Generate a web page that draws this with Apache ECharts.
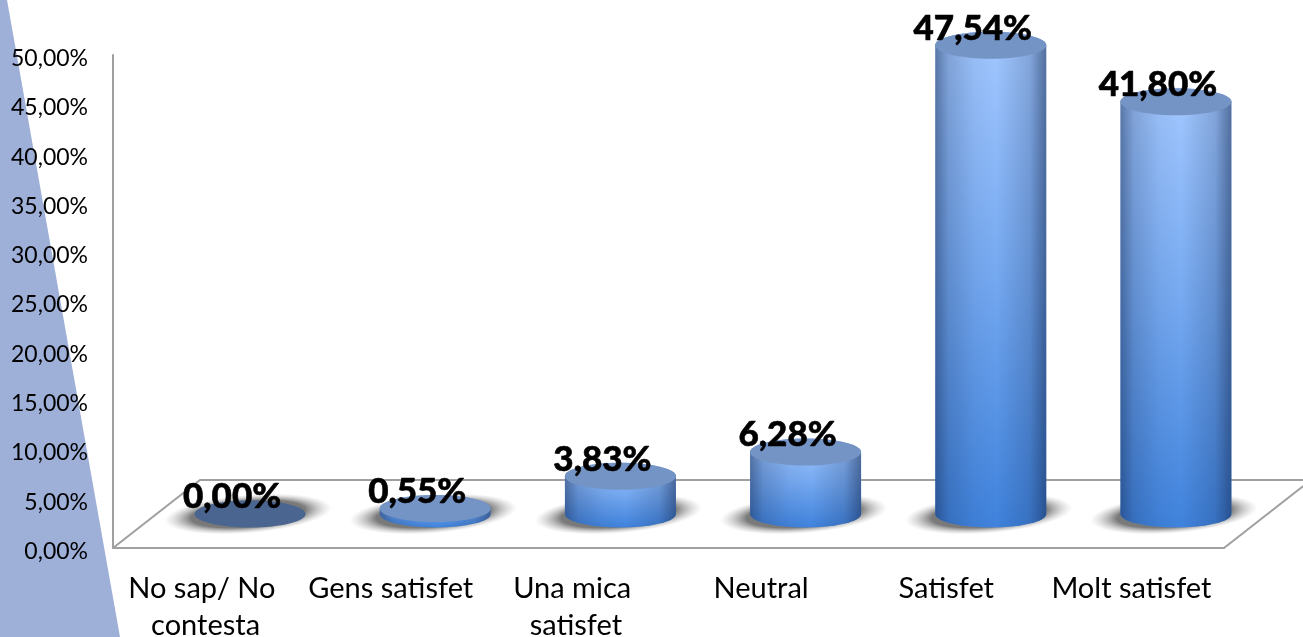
<!DOCTYPE html>
<html>
<head>
<meta charset="utf-8">
<style>
  html, body { margin: 0; padding: 0; background: #fff; }
  #chart { width: 1303px; height: 637px; }
</style>
<script src="https://cdn.jsdelivr.net/npm/echarts@6/dist/echarts.min.js"></script>
</head>
<body>
<div id="chart"></div>
<script>
const categories = ['No sap/ No contesta', 'Gens satisfet', 'Una mica satisfet', 'Neutral', 'Satisfet', 'Molt satisfet']
const values = [0, 0.55, 3.83, 6.28, 47.54, 41.8]

const FONT = 'Lato'
// fake 3D depth of the floor, the bars stand halfway back
const DEPTH_X = 87
const DEPTH_Y = -68
const RX = 55.5
const RY = 13.5

const pct = v => v.toFixed(2).replace('.', ',') + '%'

const chart = echarts.init(document.getElementById('chart'))

function renderFloor(params, api) {
  const a = api.coord([0, 0])
  const b = api.coord([5, 0])
  const band = api.size([1, 0])[0]
  const left = a[0] - band / 2
  const right = b[0] + band / 2
  const y = a[1]
  return {
    type: 'polyline',
    shape: {
      points: [
        [left, y],
        [left + DEPTH_X, y + DEPTH_Y],
        [right + DEPTH_X, y + DEPTH_Y],
        [right, y]
      ]
    },
    style: { stroke: '#a0a0a0', lineWidth: 2, fill: null }
  }
}

function renderCylinder(params, api) {
  const i = api.value(0)
  const v = api.value(1)
  const base = api.coord([i, 0])
  const top = api.coord([i, v])
  const cx = base[0] + DEPTH_X / 2 + 1
  const by = base[1] + DEPTH_Y / 2
  const ty = top[1] + DEPTH_Y / 2
  const l = cx - RX
  const r = cx + RX
  const d = `M${l} ${ty}L${l} ${by}A${RX} ${RY} 0 0 0 ${r} ${by}L${r} ${ty}A${RX} ${RY} 0 0 0 ${l} ${ty}Z`

  const children = [
    {
      type: 'circle',
      x: cx - 2,
      y: by,
      scaleY: 0.23,
      rotation: 0.08,
      shape: { cx: 0, cy: 0, r: 84 },
      style: {
        fill: {
          type: 'radial', x: 0.5, y: 0.5, r: 0.5,
          colorStops: [
            { offset: 0, color: 'rgba(105,105,105,0.95)' },
            { offset: 0.68, color: 'rgba(115,115,115,0.95)' },
            { offset: 1, color: 'rgba(190,190,190,0)' }
          ]
        }
      }
    }
  ]

  if (v > 0) {
    children.push({
      type: 'path',
      shape: { pathData: d },
      style: {
        fill: {
          type: 'linear', x: 0, y: 0, x2: 0, y2: 1,
          colorStops: [
            { offset: 0, color: '#a3c8ff' },
            { offset: 0.5, color: '#74a8f0' },
            { offset: 1, color: '#3f82dc' }
          ]
        }
      }
    })
    children.push({
      type: 'path',
      shape: { pathData: d },
      style: {
        fill: {
          type: 'linear', x: 0, y: 0, x2: 1, y2: 0,
          colorStops: [
            { offset: 0, color: 'rgba(20,40,80,0.5)' },
            { offset: 0.12, color: 'rgba(20,40,80,0.22)' },
            { offset: 0.35, color: 'rgba(20,40,80,0.05)' },
            { offset: 0.55, color: 'rgba(20,40,80,0)' },
            { offset: 0.85, color: 'rgba(20,40,80,0.2)' },
            { offset: 1, color: 'rgba(20,40,80,0.55)' }
          ]
        }
      }
    })
  }

  children.push({
    type: 'ellipse',
    shape: { cx, cy: ty, rx: RX, ry: RY },
    style: { fill: v > 0 ? '#7594c6' : '#4a658f' }
  })

  children.push({
    type: 'text',
    style: {
      x: cx - 18,
      y: ty - 17,
      text: pct(v),
      fill: '#000',
      stroke: '#000',
      lineWidth: 0.6,
      font: `900 35px ${FONT}`,
      align: 'center',
      verticalAlign: 'middle'
    }
  })

  return { type: 'group', children }
}

chart.setOption({
  animation: false,
  backgroundColor: '#fff',
  grid: { left: 113, right: 79, top: 55, bottom: 89, outerBoundsMode: 'none' },
  graphic: [
    {
      type: 'polygon',
      z: -1,
      shape: { points: [[0, 0], [7, 0], [120, 637], [0, 637]] },
      style: { fill: '#9eafd8' }
    }
  ],
  xAxis: {
    type: 'category',
    data: categories,
    axisLine: { lineStyle: { color: '#a0a0a0', width: 2 } },
    axisTick: { show: false },
    axisLabel: {
      interval: 0,
      color: '#000',
      fontFamily: FONT,
      fontSize: 29,
      lineHeight: 37,
      margin: 22,
      width: 185,
      overflow: 'break'
    }
  },
  yAxis: {
    type: 'value',
    min: 0,
    max: 50,
    interval: 5,
    axisLine: { show: true, lineStyle: { color: '#a0a0a0', width: 2 } },
    axisTick: { show: false },
    splitLine: { show: false },
    axisLabel: {
      margin: 25,
      // nudges the label a little below its tick, as in the original
      formatter: v => `{a|${pct(v)}}`,
      rich: {
        a: { color: '#000', fontFamily: FONT, fontSize: 23, padding: [7, 0, 0, 0] }
      }
    }
  },
  series: [
    {
      type: 'custom',
      name: 'floor',
      silent: true,
      renderItem: renderFloor,
      data: [[0, 0]],
      encode: { x: 0, y: 1 },
      z: 1
    },
    {
      type: 'custom',
      name: 'satisfaccio',
      renderItem: renderCylinder,
      data: values.map((v, i) => [i, v]),
      encode: { x: 0, y: 1 },
      z: 2
    }
  ]
})
</script>
</body>
</html>
